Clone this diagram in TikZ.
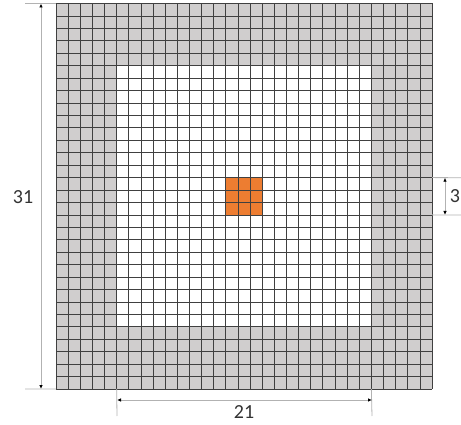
\documentclass[tikz,border=0pt]{standalone}
\usepackage{fontspec}
\setmainfont{Carlito}
\usetikzlibrary{arrows.meta,positioning,calc}
\definecolor{padgray}{HTML}{D0CECE}
\definecolor{kernelorange}{HTML}{ED7D31}

\begin{document}
\begin{tikzpicture}[x=1pt, y=-1pt,
    gridline/.style={draw=black!75, line width=0.7pt},
    ext/.style={draw=black!30, line width=0.8pt},
    dim/.style={draw=black!30, line width=0.8pt, {Latex[length=4pt,width=3.5pt,black]}-{Latex[length=4pt,width=3.5pt,black]}},
    lbl/.style={font=\fontsize{20}{24}\selectfont, text=black!80, inner sep=0pt}
]
\useasboundingbox (0,0) rectangle (461,425);

% 31 x 31 grid, 5 cells of padding, 3 x 3 kernel
\begin{scope}[shift={(56,3.5)}, x=12.129pt, y=-12.435pt]
  \fill[padgray] (0,0) rectangle (31,31);
  \fill[white] (5,5) rectangle (26,26);
  \fill[kernelorange] (14,14) rectangle (17,17);
  \foreach \i in {0,...,31} {
    \draw[gridline] (\i,0) -- (\i,31);
    \draw[gridline] (0,\i) -- (31,\i);
  }
  \coordinate (grid-tl) at (0,0);
  \coordinate (grid-bl) at (0,31);
  \coordinate (inner-l) at (5,31);
  \coordinate (inner-r) at (26,31);
  \coordinate (kern-t) at (31,14);
  \coordinate (kern-b) at (31,17);
\end{scope}

% extension lines
\coordinate (top-end) at (25,3.5);
\coordinate (bot-end) at (25,389);
\coordinate (inner-l-end) at (117,416);
\coordinate (inner-r-end) at (372,416);
\coordinate (kern-t-end) at (461,177.7);
\coordinate (kern-b-end) at (461,215);
\draw[ext] (grid-tl) -- (top-end);
\draw[ext] (grid-bl) -- (bot-end);
\draw[ext] (inner-l) -- (inner-l-end);
\draw[ext] (inner-r) -- (inner-r-end);
\draw[ext] (kern-t) -- (kern-t-end);
\draw[ext] (kern-b) -- (kern-b-end);

% dimension lines
\coordinate (d31-t) at (41,3.5);
\coordinate (d31-b) at (41,389);
\coordinate (d21-l) at (117,400);
\coordinate (d21-r) at (372,400);
\coordinate (d3-t) at (445,177.7);
\coordinate (d3-b) at (445,215);
\draw[dim] (d31-t) -- (d31-b);
\draw[dim] (d21-l) -- (d21-r);
\draw[dim] (d3-t) -- (d3-b);

\node[lbl] (size31) at (23,197) {31};
\node[lbl] (size21) at (244,412) {21};
\node[lbl] (size3) at (455,196) {3};
\end{tikzpicture}
\end{document}
